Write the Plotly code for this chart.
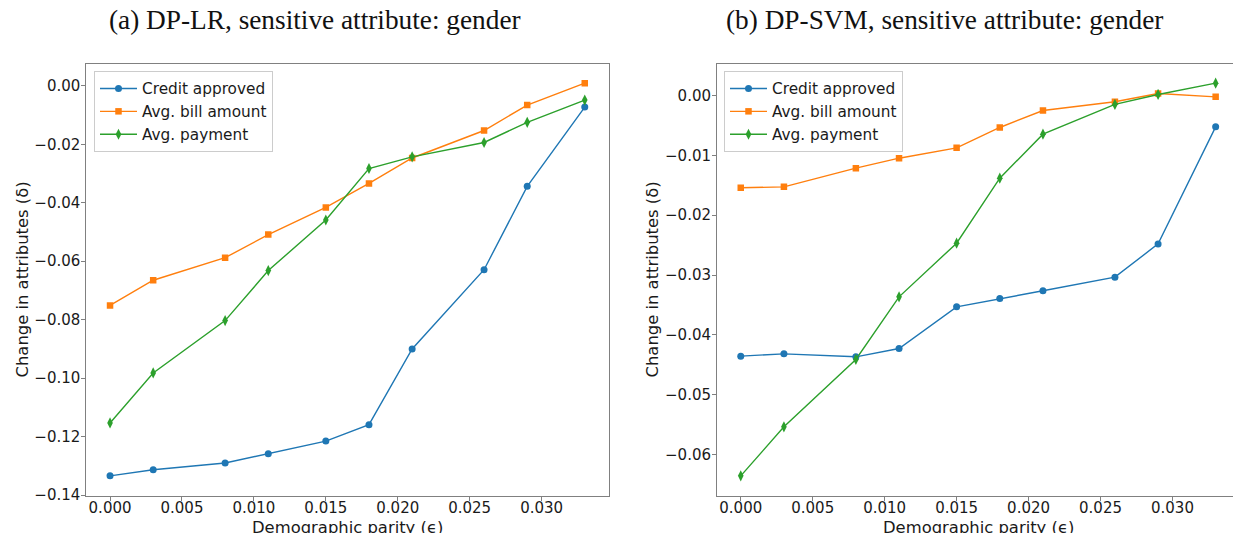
import plotly.graph_objects as go

eps = [0.0, 0.003, 0.008, 0.011, 0.015, 0.018, 0.021, 0.026, 0.029, 0.033]

# Panel (a) DP-LR
lr_credit = [-0.1334, -0.1313, -0.1290, -0.1258, -0.1215, -0.1159, -0.0900, -0.0629, -0.0344, -0.0073]
lr_bill = [-0.0751, -0.0665, -0.0588, -0.0509, -0.0416, -0.0334, -0.0247, -0.0153, -0.0066, 0.0009]
lr_pay = [-0.1153, -0.0982, -0.0803, -0.0632, -0.0459, -0.0283, -0.0243, -0.0194, -0.0125, -0.0049]

# Panel (b) DP-SVM
svm_credit = [-0.04356, -0.04317, -0.04367, -0.04228, -0.03532, -0.03392, -0.03264, -0.03036, -0.0248, -0.00524]
svm_bill = [-0.01543, -0.01527, -0.01215, -0.01048, -0.00875, -0.00535, -0.00251, -0.00106, 0.00033, -0.00023]
svm_pay = [-0.06356, -0.05537, -0.04411, -0.03365, -0.02468, -0.01382, -0.00647, -0.0015, 0.00017, 0.00206]

series_names = ["Credit approved", "Avg. bill amount", "Avg. payment"]
colors = ["#1f77b4", "#ff7f0e", "#2ca02c"]
symbols = ["circle", "square", "diamond-tall"]
msizes = [7, 6.5, 8]

title_a = "(a) DP-LR, sensitive attribute: gender"
title_b = "(b) DP-SVM, sensitive attribute: gender"
xlabel = "Demographic parity (ϵ)"
ylabel = "Change in attributes (δ)"

x_ticks = [0, 0.005, 0.01, 0.015, 0.02, 0.025, 0.03]
ya_ticks = [-0.14, -0.12, -0.10, -0.08, -0.06, -0.04, -0.02, 0.0]
yb_ticks = [-0.06, -0.05, -0.04, -0.03, -0.02, -0.01, 0.0]

W, H = 1233, 533
FS = 15
TXT = "#1a1a1a"
SPINE = "#808080"

fig = go.Figure()

panels = [
    ("x", "y", "legend", [lr_credit, lr_bill, lr_pay]),
    ("x2", "y2", "legend2", [svm_credit, svm_bill, svm_pay]),
]
for xa, ya, lg, data in panels:
    for i, vals in enumerate(data):
        fig.add_trace(go.Scatter(
            x=eps, y=vals, xaxis=xa, yaxis=ya, legend=lg,
            name=series_names[i], legendgroup=lg + str(i),
            mode="lines+markers",
            line=dict(color=colors[i], width=1.4),
            marker=dict(symbol=symbols[i], size=msizes[i], color=colors[i],
                        line=dict(width=0)),
        ))


def rng(lists):
    lo = min(min(v) for v in lists)
    hi = max(max(v) for v in lists)
    m = (hi - lo) * 0.05
    return [lo - m, hi + m]


xr = rng([eps])

# pixel layout of axes boxes
ax_a = (86.3, 608.5)
ax_b_left, ax_b_full_right = 717.0, 1239.4
top, bottom = 63.5, 495.5
ydom = [1 - bottom / H, 1 - top / H]

# panel (b) is cut at the right edge of the picture
frac_b = (W - ax_b_left) / (ax_b_full_right - ax_b_left)
xr_b = [xr[0], xr[0] + (xr[1] - xr[0]) * frac_b]

base_axis = dict(
    showline=True, linecolor=SPINE, linewidth=1,
    ticks="outside", ticklen=4, tickcolor=SPINE, tickwidth=1,
    showgrid=False, zeroline=False,
    tickfont=dict(family="DejaVu Sans", size=FS, color=TXT),
    automargin=False,
)

legend_style = dict(
    xanchor="left", yanchor="top", xref="paper", yref="paper",
    bgcolor="rgba(255,255,255,0.8)", bordercolor="#cccccc", borderwidth=1,
    font=dict(family="DejaVu Sans", size=15.3, color=TXT),
    tracegroupgap=0, itemwidth=37,
)

fig.update_layout(
    width=W, height=H,
    margin=dict(l=0, r=0, t=0, b=0),
    paper_bgcolor="white", plot_bgcolor="white",
    xaxis=dict(domain=[ax_a[0] / W, ax_a[1] / W], range=xr, anchor="y",
               tickvals=x_ticks, tickformat=".3f", mirror=True,
               ticklabelstandoff=-6, **base_axis),
    yaxis=dict(domain=ydom, range=rng([lr_credit, lr_bill, lr_pay]), anchor="x",
               tickvals=ya_ticks, tickformat=".2f", mirror=True,
               ticklabelstandoff=-2, **base_axis),
    xaxis2=dict(domain=[ax_b_left / W, 1.0], range=xr_b, anchor="y2",
                tickvals=x_ticks, tickformat=".3f", mirror=True,
                ticklabelstandoff=-6, **base_axis),
    yaxis2=dict(domain=ydom, range=rng([svm_credit, svm_bill, svm_pay]), anchor="x2",
                tickvals=yb_ticks, tickformat=".2f", mirror=False,
                ticklabelstandoff=-2, **base_axis),
    legend=dict(x=94 / W, y=1 - 71 / H, **legend_style),
    legend2=dict(x=724 / W, y=1 - 71 / H, **legend_style),
)

annots = [
    dict(text=title_a, x=314.5 / W, y=1 - 20.5 / H, font=dict(family="Liberation Serif", size=27.3, color="#111")),
    dict(text=title_b, x=945 / W, y=1 - 20.5 / H, font=dict(family="Liberation Serif", size=27.3, color="#111")),
    dict(text=xlabel, x=(ax_a[0] + ax_a[1]) / 2 / W, y=1 - 527 / H, font=dict(family="DejaVu Sans", size=16.4, color=TXT)),
    dict(text=xlabel, x=(ax_b_left + ax_b_full_right) / 2 / W, y=1 - 527 / H, font=dict(family="DejaVu Sans", size=16.4, color=TXT)),
    dict(text=ylabel, x=22 / W, y=1 - (top + bottom) / 2 / H, textangle=-90, font=dict(family="DejaVu Sans", size=16.4, color=TXT)),
    dict(text=ylabel, x=652 / W, y=1 - (top + bottom) / 2 / H, textangle=-90, font=dict(family="DejaVu Sans", size=16.4, color=TXT)),
]
for a in annots:
    a.update(xref="paper", yref="paper", showarrow=False, xanchor="center", yanchor="middle")
    fig.add_annotation(**a)

fig.write_html("out.html", config={"displayModeBar": False},
               post_script="document.body.style.margin='0';document.body.style.overflow='hidden';")
